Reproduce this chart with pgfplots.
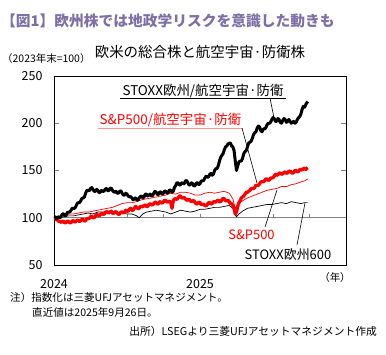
\documentclass[border=0pt]{standalone}
\usepackage{pgfplots}
\pgfplotsset{compat=1.18}
\usepackage{fontspec}
\setmainfont{Noto Sans CJK JP}
\definecolor{ttl}{RGB}{125,112,165}
\definecolor{pinkline}{RGB}{255,150,150}
\begin{document}
\begin{tikzpicture}[x=1bp,y=1bp]
\path[use as bounding box] (0,0) rectangle (386,-355);
\begin{axis}[at={(54bp,-265bp)}, anchor=south west, scale only axis,
  width=292bp, height=189bp,
  xmin=0, xmax=24, ymin=50, ymax=250,
  ytick={50,100,150,200,250}, xtick={0,12}, xticklabels={2024,2025},
  tick align=inside, major tick length=5bp,
  ytick style={gray, line width=0.8bp}, xtick style={draw=none},
  axis line style={black, line width=0.8bp},
  ticklabel style={font=\fontsize{12.5}{14}\selectfont},
  /pgf/number format/assume math mode=true,
  yticklabel style={xshift=-8bp}, xticklabel style={yshift=-11bp}]
\draw[gray, line width=1bp] (axis cs:0,100) -- (axis cs:24,100);
\pgfplotsinvokeforeach{3,6,9,12,15,18,21}{\draw[gray, line width=0.8bp] (axis cs:#1,100) -- (axis cs:#1,104);}
% STOXX Europe 600 (thin black)
\addplot[black, line width=0.7bp] coordinates {
(0,100)(0.4,100)(0.8,101)(1.2,102)(1.6,102)(2.0,103)(2.4,104)(2.8,105)(3.2,104)(3.6,106)(4.0,106)(4.4,107)(4.8,106)(5.2,106)(5.6,105)(6.0,104)(6.4,104)(6.8,102)(7.0,100)(7.3,104)(7.6,106)(8.0,107)(8.4,108)(8.8,107)(9.2,106)(9.6,104)(10.0,106)(10.4,108)(10.8,107)(11.2,106)(11.6,107)(12.0,109)(12.4,109)(12.8,110)(13.2,111)(13.6,111)(14.0,112)(14.4,113)(14.7,110)(14.9,103)(15.0,101)(15.2,104)(15.5,107)(15.9,110)(16.3,111)(16.7,112)(17.1,113)(17.5,114)(17.9,114)(18.3,115)(18.7,116)(19.1,115)(19.5,117)(19.9,116)(20.3,115)(20.6,116)(20.85,116)};
% S&P500 (thin red)
\addplot[red, line width=0.7bp] coordinates {
(0,100)(0.3,101)(0.6,102)(1.0,103)(1.3,104)(1.6,104)(2.0,105)(2.4,106)(2.8,106)(3.2,107)(3.6,108)(4.0,109)(4.4,110)(4.8,111)(5.2,113)(5.6,115)(6.0,116)(6.4,116)(6.8,117)(7.2,119)(7.6,120)(8.0,121)(8.4,122)(8.8,123)(9.2,124)(9.6,126)(10.0,125)(10.4,127)(10.8,127)(11.2,126)(11.6,124)(12.0,124)(12.4,126)(12.8,127)(13.2,126)(13.6,127)(14.0,128)(14.4,126)(14.7,120)(14.9,110)(15.0,112)(15.2,115)(15.5,118)(15.9,121)(16.3,123)(16.7,125)(17.1,127)(17.5,129)(17.9,130)(18.3,131)(18.7,133)(19.1,133)(19.5,135)(19.9,136)(20.3,138)(20.6,139)(20.85,141)};
% S&P500 Aerospace & Defense (thick red)
\addplot[red, line width=3.3bp, line join=round] coordinates {
(0,100)(0.1,99)(0.2,98)(0.3,97.5)(0.4,96)(0.5,96)(0.6,95)(0.7,96.5)(0.8,96)(0.9,94.5)(1.0,95)(1.1,96.5)(1.2,96)(1.3,94.5)(1.4,95)(1.5,96.5)(1.6,97)(1.7,95.5)(1.8,96)(1.9,97.5)(2.0,97)(2.1,96)(2.2,97)(2.3,98.5)(2.4,98)(2.5,96.5)(2.6,97)(2.7,99)(2.8,99)(2.9,99.5)(3.0,101)(3.1,101.5)(3.2,100)(3.3,100)(3.4,102)(3.5,103.5)(3.6,103)(3.7,102)(3.8,103)(3.9,104.5)(4.0,104)(4.1,103.5)(4.2,105)(4.3,106.5)(4.4,106)(4.5,105)(4.6,106)(4.7,107)(4.8,105)(4.9,104.5)(5.0,106)(5.1,106.5)(5.2,105)(5.3,103.5)(5.4,104)(5.5,106)(5.6,106)(5.7,105)(5.8,106)(5.9,108)(6.0,107)(6.1,107)(6.2,109)(6.3,110)(6.4,108)(6.5,108)(6.6,110)(6.7,112)(6.8,111)(6.9,109.5)(7.0,110)(7.1,112)(7.2,112)(7.3,111.5)(7.4,113)(7.5,113.5)(7.6,112)(7.7,112)(7.8,114)(7.9,115)(8.0,114)(8.1,113.5)(8.2,115)(8.3,116.5)(8.4,116)(8.5,114.5)(8.6,115)(8.7,117)(8.8,116)(8.9,115.5)(9.0,117)(9.1,118.5)(9.2,118)(9.3,116.5)(9.4,117)(9.5,117.5)(9.6,116)(9.7,110)(9.8,118)(9.9,120)(10.0,120)(10.1,119.5)(10.2,121)(10.3,123)(10.4,123)(10.5,121)(10.6,121)(10.7,121.5)(10.8,120)(10.9,118.5)(11.0,119)(11.1,119.5)(11.2,118)(11.3,117)(11.4,118)(11.5,118)(11.6,116)(11.7,114.5)(11.8,115)(11.9,116.5)(12.0,116)(12.1,114)(12.2,114)(12.3,114.5)(12.4,113)(12.5,112.5)(12.6,114)(12.7,116)(12.8,116)(12.9,114.5)(13.0,115)(13.1,117)(13.2,117)(13.3,116.5)(13.4,118)(13.5,118.5)(13.6,117)(13.7,117)(13.8,119)(13.9,120.5)(14.0,120)(14.1,118)(14.2,118)(14.3,118.5)(14.4,117)(14.5,115)(14.6,115)(14.7,113)(14.8,110)(14.9,104)(15.0,106)(15.1,112)(15.2,116)(15.3,118)(15.4,121)(15.5,122)(15.6,123)(15.7,125)(15.8,127)(15.9,127)(16.0,128)(16.1,129)(16.2,131)(16.3,131)(16.4,131)(16.5,132)(16.6,134.5)(16.7,134)(16.8,134.5)(16.9,136)(17.0,138)(17.1,138)(17.2,138)(17.3,139)(17.4,141)(17.5,141)(17.6,139.5)(17.7,140)(17.8,142)(17.9,142)(18.0,142.5)(18.1,144)(18.2,146)(18.3,145)(18.4,145.5)(18.5,147)(18.6,147.5)(18.7,146)(18.8,146.5)(18.9,148)(19.0,148.5)(19.1,147)(19.2,147.5)(19.3,149)(19.4,149.5)(19.5,148)(19.6,147)(19.7,148)(19.8,150)(19.9,150)(20.0,148.5)(20.1,149)(20.2,151)(20.3,151)(20.4,150.5)(20.5,152)(20.6,152.5)(20.7,151)(20.8,152.5)(20.85,153)};
% STOXX Europe Aerospace & Defense (thick black)
\addplot[black, line width=3bp, line join=round] coordinates {
(0,100)(0.1,101)(0.2,99)(0.3,100.5)(0.4,101)(0.5,100)(0.6,102)(0.7,104)(0.8,104)(0.9,102)(1.0,103)(1.1,105.5)(1.2,106)(1.3,106)(1.4,108)(1.5,110)(1.6,110)(1.7,110)(1.8,112)(1.9,115)(2.0,116)(2.1,116)(2.2,118)(2.3,120.5)(2.4,121)(2.5,122)(2.6,126)(2.7,129)(2.8,129)(2.9,128.5)(3.0,131)(3.1,132)(3.2,130)(3.3,128)(3.4,128)(3.5,130)(3.6,129)(3.7,126.5)(3.8,127)(3.9,129)(4.0,128)(4.1,128)(4.2,130)(4.3,131)(4.4,129)(4.5,128.5)(4.6,131)(4.7,131.5)(4.8,129)(4.9,127.5)(5.0,127)(5.1,128)(5.2,126)(5.3,126)(5.4,128)(5.5,128.5)(5.6,126)(5.7,124)(5.8,124)(5.9,126)(6.0,125)(6.1,123)(6.2,122)(6.3,122.5)(6.4,121)(6.5,119)(6.6,120)(6.7,121)(6.8,119)(6.9,118.5)(7.0,121)(7.1,122.5)(7.2,123)(7.3,121)(7.4,122)(7.5,125)(7.6,125)(7.7,123)(7.8,124)(7.9,125)(8.0,123)(8.1,123.5)(8.2,126)(8.3,128)(8.4,127)(8.5,124.5)(8.6,125)(8.7,127.5)(8.8,127)(8.9,125)(9.0,126)(9.1,128.5)(9.2,128)(9.3,126)(9.4,127)(9.5,129.5)(9.6,129)(9.7,127)(9.8,128)(9.9,132)(10.0,134)(10.1,137)(10.2,137)(10.3,134.5)(10.4,135)(10.5,137)(10.6,136)(10.7,136)(10.8,139)(10.9,139.5)(11.0,137)(11.1,134.5)(11.2,135)(11.3,137)(11.4,136)(11.5,133.5)(11.6,134)(11.7,137)(11.8,137)(11.9,135)(12.0,136)(12.1,139)(12.2,139)(12.3,139.5)(12.4,142)(12.5,144)(12.6,143)(12.7,143)(12.8,146)(12.9,147)(13.0,145)(13.1,146)(13.2,150)(13.3,152)(13.4,152)(13.5,155)(13.6,160)(13.7,164)(13.8,166)(13.9,168)(14.0,172)(14.1,175)(14.2,176)(14.3,178)(14.4,179)(14.5,179)(14.6,176)(14.7,175)(14.8,171)(14.9,160)(15.0,150)(15.1,155)(15.2,159)(15.3,160)(15.4,160)(15.5,163)(15.6,168)(15.7,170)(15.8,171)(15.9,175)(16.0,179)(16.1,180)(16.2,181)(16.3,184)(16.4,188)(16.5,190)(16.6,191)(16.7,195)(16.8,197)(16.9,196)(17.0,192)(17.1,191)(17.2,194)(17.3,194)(17.4,195)(17.5,198)(17.6,200)(17.7,200)(17.8,201)(17.9,204)(18.0,206)(18.1,205)(18.2,202)(18.3,202)(18.4,205)(18.5,204)(18.6,201)(18.7,200)(18.8,203)(18.9,205)(19.0,204)(19.1,201)(19.2,202)(19.3,204)(19.4,202)(19.5,200)(19.6,201)(19.7,202)(19.8,200)(19.9,201)(20.0,204)(20.1,206)(20.2,207)(20.3,210)(20.4,215)(20.5,218)(20.6,217)(20.7,220)(20.8,222)(20.85,223)};
\end{axis}
% titles
\node[anchor=west, inner sep=0, text=ttl, font=\fontsize{14.8}{16}\selectfont\bfseries] at (1,-21) {【図1】欧州株では地政学リスクを意識した動きも};
\node[font=\fontsize{14.5}{16}\selectfont, inner sep=0] at (200,-52) {欧米の総合株と航空宇宙·防衛株};
\node[anchor=west, inner sep=0, font=\fontsize{10.5}{11}\selectfont] at (2,-59) {（2023年末=100）};
\node[inner sep=0, font=\fontsize{10.5}{11}\selectfont] at (335,-278) {（年）};
% annotations
\node[inner sep=0, font=\fontsize{13.5}{15}\selectfont] at (203,-91) {STOXX欧州/航空宇宙·防衛};
\draw[line width=0.8bp] (120,-98) -- (286,-98);
\draw[line width=0.6bp] (270,-98) -- (274,-118);
\node[inner sep=0, text=red, font=\fontsize{13.5}{15}\selectfont] at (170.5,-120) {S\&P500/航空宇宙·防衛};
\draw[pinkline, line width=1bp] (98,-128) -- (243,-128);
\draw[line width=0.6bp] (242,-128) -- (257,-183);
\node[inner sep=0, text=red, font=\fontsize{13}{15}\selectfont] at (251.5,-235) {S\&P500};
\draw[line width=0.6bp] (265,-227) -- (277,-190);
\node[inner sep=0, font=\fontsize{13}{15}\selectfont] at (288,-255) {STOXX欧州600};
\draw[line width=0.6bp] (297,-245) -- (305,-203);
% notes
\node[anchor=west, inner sep=0, font=\fontsize{10.6}{11}\selectfont] at (10,-297) {注）指数化は三菱UFJアセットマネジメント。};
\node[anchor=west, inner sep=0, font=\fontsize{10.6}{11}\selectfont] at (32,-312) {直近値は2025年9月26日。};
\node[anchor=east, inner sep=0, font=\fontsize{10.8}{11}\selectfont] at (377,-331) {出所）LSEGより三菱UFJアセットマネジメント作成};
\end{tikzpicture}
\end{document}
